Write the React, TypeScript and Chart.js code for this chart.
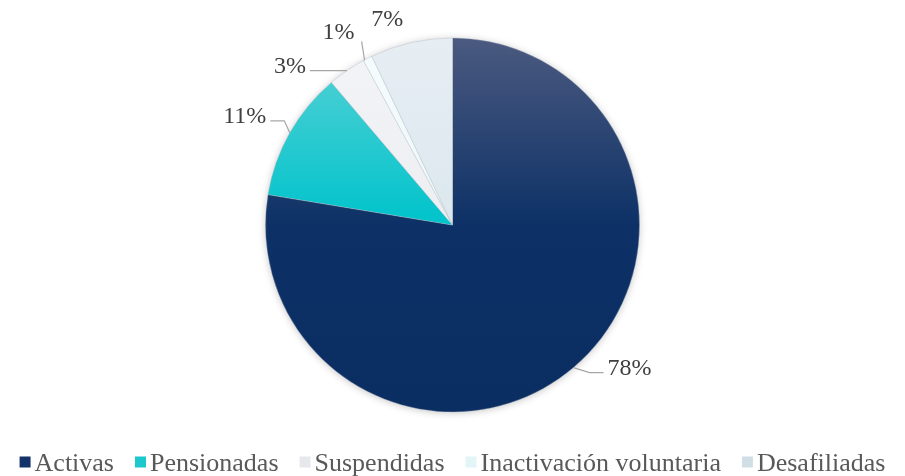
import React, { useEffect, useRef } from "react";
import { Chart, registerables } from "chart.js";

Chart.register(...registerables);

const categories = ["Activas", "Pensionadas", "Suspendidas", "Inactivación voluntaria", "Desafiliadas"];
const shares = [77.6, 11.2, 3.3, 0.8, 7.1];

// colour stops per slice: [top, middle, bottom]
const sliceColors = [
  ["#4b5a80", "#0d3166", "#0a2d62"],
  ["#5ad2d6", "#00c3cb", "#00c1ca"],
  ["#f3f4f7", "#eceef2", "#e6e8ec"],
  ["#f6fcfd", "#ecf8fa", "#e6f5f7"],
  ["#e6eef3", "#dce7ee", "#d6e2ea"],
];
const legendColors = ["#13336a", "#1cc8ce", "#e6e8ec", "#e4f5f7", "#d2dee6"];

// label placement relative to the slice's outer edge midpoint: [dx, dy, leader mode]
const labelLayout: [number, number, string][] = [
  [56, -1, "elbow"],
  [-45, -18, "elbow"],
  [-57, -6, "elbow"],
  [-29, -27, "direct"],
  [-24, -25, "none"],
];

const FONT = "'Liberation Serif', 'DejaVu Serif', serif";
const RADIUS = 187;

const shadowPlugin = {
  id: "pieShadow",
  beforeDatasetsDraw(chart: any) {
    const arc = chart.getDatasetMeta(0).data[0];
    if (!arc) return;
    const ctx = chart.ctx;
    ctx.save();
    ctx.beginPath();
    ctx.arc(arc.x, arc.y, RADIUS - 1, 0, Math.PI * 2);
    ctx.fillStyle = "#ffffff";
    ctx.shadowColor = "rgba(0,0,0,0.28)";
    ctx.shadowBlur = 9;
    ctx.shadowOffsetX = 0;
    ctx.shadowOffsetY = 1;
    ctx.fill();
    ctx.restore();
  },
};

const labelPlugin = {
  id: "outLabels",
  afterDatasetsDraw(chart: any) {
    const ctx = chart.ctx;
    const meta = chart.getDatasetMeta(0);
    const total = shares.reduce((a, b) => a + b, 0);
    ctx.save();
    ctx.font = `24px ${FONT}`;
    meta.data.forEach((arc: any, i: number) => {
      const { x, y, startAngle, endAngle, outerRadius } = arc.getProps(
        ["x", "y", "startAngle", "endAngle", "outerRadius"],
        true
      );
      const mid = (startAngle + endAngle) / 2;
      const ex = x + Math.cos(mid) * outerRadius;
      const ey = y + Math.sin(mid) * outerRadius;
      const [dx, dy, mode] = labelLayout[i];
      const tx = ex + dx;
      const ty = ey + dy;
      const text = Math.round((shares[i] / total) * 100) + "%";
      const w = ctx.measureText(text).width;
      ctx.strokeStyle = "#a6a6a6";
      ctx.lineWidth = 1.2;
      if (mode === "elbow") {
        const right = dx > 0;
        const sx = right ? tx - w / 2 - 4 : tx + w / 2 + 4;
        const sy = ty + 6;
        const bx = sx + (right ? -14 : 14);
        ctx.beginPath();
        ctx.moveTo(ex, ey);
        ctx.lineTo(bx, sy);
        ctx.lineTo(sx, sy);
        ctx.stroke();
      } else if (mode === "direct") {
        ctx.beginPath();
        ctx.moveTo(ex - 3, ey + 2);
        ctx.lineTo(tx + w / 2 + 7, ty + 10);
        ctx.stroke();
      }
      ctx.fillStyle = "#404040";
      ctx.textAlign = "center";
      ctx.textBaseline = "alphabetic";
      ctx.fillText(text, tx, ty + 8);
    });
    ctx.restore();
  },
};

const legendPlugin = {
  id: "bottomLegend",
  afterDraw(chart: any) {
    const ctx = chart.ctx;
    ctx.save();
    ctx.font = `26px ${FONT}`;
    const box = 11;
    const gapBox = 4;
    const gapItem = 21;
    const widths = categories.map((c) => ctx.measureText(c).width);
    const total =
      widths.reduce((a, b) => a + b, 0) + categories.length * (box + gapBox) + gapItem * (categories.length - 1);
    let cx = (chart.width - total) / 2;
    const cy = 462;
    categories.forEach((c, i) => {
      ctx.fillStyle = legendColors[i];
      ctx.fillRect(cx, cy - box / 2, box, box);
      cx += box + gapBox;
      ctx.fillStyle = "#595959";
      ctx.textAlign = "left";
      ctx.textBaseline = "alphabetic";
      ctx.fillText(c, cx, cy + 9);
      cx += widths[i] + gapItem;
    });
    ctx.restore();
  },
};

export default function App() {
  const ref = useRef<HTMLCanvasElement | null>(null);
  useEffect(() => {
    document.body.style.margin = "0";
    if (!ref.current) return;
    const chart = new Chart(ref.current, {
      type: "pie",
      data: {
        labels: categories,
        datasets: [
          {
            data: shares,
            backgroundColor: (c: any) => {
              const ch = c.chart;
              const area = ch.chartArea;
              const stops = sliceColors[c.dataIndex] || sliceColors[0];
              if (!area) return stops[1];
              const cy = (area.top + area.bottom) / 2;
              const g = ch.ctx.createLinearGradient(0, cy - RADIUS, 0, cy + RADIUS);
              g.addColorStop(0, stops[0]);
              g.addColorStop(0.5, stops[1]);
              g.addColorStop(1, stops[2]);
              return g;
            },
            borderColor: "rgba(170,180,190,0.6)",
            borderWidth: 0.6,
          },
        ],
      },
      options: {
        animation: false,
        responsive: true,
        maintainAspectRatio: false,
        radius: RADIUS,
        layout: { padding: { top: 0, bottom: 26, left: 0, right: 0 } },
        plugins: {
          legend: { display: false },
          tooltip: { enabled: false },
          title: { display: false },
        },
      },
      plugins: [shadowPlugin, labelPlugin, legendPlugin],
    });
    return () => chart.destroy();
  }, []);
  return (
    <div style={{ width: 905, height: 476, position: "relative" }}>
      <canvas ref={ref} />
    </div>
  );
}
